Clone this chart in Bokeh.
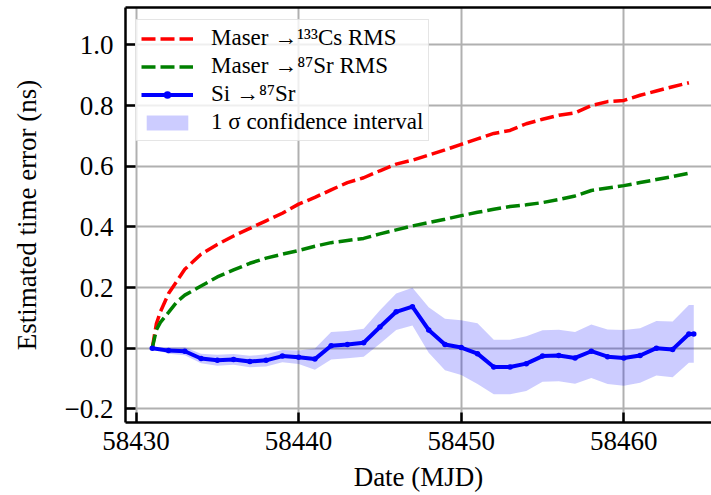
from bokeh.plotting import figure
from bokeh.models import (ColumnDataSource, FixedTicker, LinearAxis, Legend,
                          LegendItem, Range1d, CustomJSTickFormatter)
from bokeh.embed import file_html
from bokeh.resources import INLINE

# ---------------- data ----------------
rms_dates = [58431, 58431.25, 58431.5, 58432, 58432.5, 58433, 58434, 58435,
             58436, 58437, 58438, 58439, 58440, 58441, 58442, 58443, 58444,
             58445, 58446, 58447, 58448, 58449, 58450, 58451, 58452, 58453,
             58454, 58455, 58456, 58457, 58458, 58459, 58460, 58461, 58462,
             58463, 58464]
cs_rms = [0.0, 0.08, 0.12, 0.18, 0.22, 0.26, 0.31, 0.342, 0.37, 0.395, 0.42,
          0.445, 0.475, 0.497, 0.522, 0.546, 0.562, 0.585, 0.607, 0.62, 0.637,
          0.654, 0.672, 0.69, 0.708, 0.718, 0.74, 0.755, 0.768, 0.776, 0.80,
          0.813, 0.817, 0.834, 0.848, 0.862, 0.875]
sr_rms = [0.0, 0.06, 0.085, 0.118, 0.152, 0.175, 0.205, 0.235, 0.258, 0.28,
          0.297, 0.31, 0.322, 0.336, 0.348, 0.355, 0.362, 0.377, 0.39, 0.403,
          0.414, 0.425, 0.437, 0.448, 0.458, 0.467, 0.473, 0.48, 0.49, 0.502,
          0.52, 0.528, 0.536, 0.546, 0.556, 0.566, 0.577]

si_dates = [58431, 58432, 58433, 58434, 58435, 58436, 58437, 58438, 58439,
            58440, 58441, 58442, 58443, 58444, 58445, 58446, 58447, 58448,
            58449, 58450, 58451, 58452, 58453, 58454, 58455, 58456, 58457,
            58458, 58459, 58460, 58461, 58462, 58463, 58464, 58464.3]
si_sr = [0.0, -0.008, -0.010, -0.034, -0.040, -0.037, -0.044, -0.040, -0.026,
         -0.030, -0.036, 0.008, 0.012, 0.018, 0.070, 0.120, 0.137, 0.060,
         0.012, 0.002, -0.018, -0.062, -0.062, -0.051, -0.026, -0.024, -0.032,
         -0.010, -0.028, -0.032, -0.024, 0.000, -0.004, 0.047, 0.047]
si_sigma = [0.002, 0.010, 0.013, 0.016, 0.018, 0.018, 0.019, 0.020, 0.020,
            0.022, 0.035, 0.045, 0.045, 0.046, 0.055, 0.060, 0.062, 0.075,
            0.085, 0.090, 0.100, 0.090, 0.090, 0.090, 0.085, 0.085, 0.085,
            0.088, 0.090, 0.092, 0.090, 0.090, 0.092, 0.095, 0.095]

x_ticks = [58430, 58440, 58450, 58460]
x_tick_labels = ["58430", "58440", "58450", "58460"]
y_ticks = [-0.2, 0.0, 0.2, 0.4, 0.6, 0.8, 1.0]
y_tick_labels = ["\u22120.2", "0.0", "0.2", "0.4", "0.6", "0.8", "1.0"]

labels = ["Maser \u2192\u00b9\u00b3\u00b3Cs RMS", "Maser \u2192\u2078\u2077Sr RMS",
          "Si \u2192\u2078\u2077Sr", "1 \u03c3 confidence interval"]

# ---------------- figure ----------------
FONT = "Liberation Serif"

rms_src = ColumnDataSource(dict(x=rms_dates, cs=cs_rms, sr=sr_rms))
si_src = ColumnDataSource(dict(
    x=si_dates, y=si_sr,
    lo=[m - s for m, s in zip(si_sr, si_sigma)],
    hi=[m + s for m, s in zip(si_sr, si_sigma)]))

p = figure(width=711, height=495, output_backend="svg",
           toolbar_location=None,
           x_range=Range1d(58429.354, 58465.39), y_range=Range1d(-0.2450, 1.1233),
           min_border_left=125, min_border_right=0, min_border_top=7,
           min_border_bottom=73)
p.outline_line_color = None
p.background_fill_color = "white"

band = p.varea(x="x", y1="lo", y2="hi", source=si_src,
               fill_color="#0000ff", fill_alpha=0.2)
red = p.line("x", "cs", source=rms_src, line_color="#ff0000", line_width=3.5,
             line_dash="14 5")
green = p.line("x", "sr", source=rms_src, line_color="#008000", line_width=3.5,
               line_dash="14 5")
blue = p.line("x", "y", source=si_src, line_color="#0000ff", line_width=4)
blue_pts = p.scatter("x", "y", source=si_src, size=5.5, marker="circle",
                     fill_color="#0000ff", line_color=None)


def fmt(vals, labs):
    return CustomJSTickFormatter(args=dict(tvals=vals, tlabs=labs), code="""
        for (let i = 0; i < tvals.length; i++) {
            if (Math.abs(tvals[i] - tick) < 1e-9) { return tlabs[i]; }
        }
        return "";
    """)


# axes
for ax in (p.xaxis[0], p.yaxis[0]):
    ax.axis_line_width = 2.5
    ax.axis_line_color = "black"
    ax.major_tick_in = 10
    ax.major_tick_out = 0
    ax.major_tick_line_width = 2.5
    ax.major_tick_line_color = "black"
    ax.minor_tick_line_color = None
    ax.major_label_text_font = FONT
    ax.major_label_text_font_size = "27px"
    ax.major_label_text_color = "black"
    ax.axis_label_text_font = FONT
    ax.axis_label_text_font_size = "27px"
    ax.axis_label_text_font_style = "normal"
    ax.axis_label_text_color = "black"

p.xaxis.ticker = FixedTicker(ticks=x_ticks)
p.xaxis.formatter = fmt(x_ticks, x_tick_labels)
p.yaxis.ticker = FixedTicker(ticks=y_ticks)
p.yaxis.formatter = fmt(y_ticks, y_tick_labels)
p.xaxis.axis_label = "Date (MJD)"
p.yaxis.axis_label = "Estimated time error (ns)"
p.xaxis.major_label_standoff = 9
p.xaxis.axis_label_standoff = 9
p.yaxis.major_label_standoff = 12
p.yaxis.axis_label_standoff = 20

top = LinearAxis(ticker=FixedTicker(ticks=[]), major_label_text_font_size="0px",
                 major_tick_in=0, major_tick_out=0, minor_tick_line_color=None,
                 major_label_standoff=0, axis_line_width=2.5,
                 axis_line_color="black")
p.add_layout(top, "above")

p.xgrid.grid_line_color = "#b0b0b0"
p.xgrid.grid_line_width = 2
p.ygrid.grid_line_color = "#b0b0b0"
p.ygrid.grid_line_width = 2

legend = Legend(items=[
    LegendItem(label=labels[0], renderers=[red]),
    LegendItem(label=labels[1], renderers=[green]),
    LegendItem(label=labels[2], renderers=[blue, blue_pts]),
    LegendItem(label=labels[3], renderers=[band]),
], location=(10, 281))
legend.margin = 0
legend.padding = 5
legend.spacing = 2
legend.glyph_width = 52
legend.glyph_height = 19
legend.label_standoff = 18
legend.label_text_font = FONT
legend.label_text_font_size = "23px"
legend.label_text_color = "black"
legend.label_height = 22
legend.border_line_color = "#cccccc"
legend.border_line_width = 1.5
legend.background_fill_alpha = 0.8
p.add_layout(legend)

open("out.html", "w").write(file_html(p, INLINE))
